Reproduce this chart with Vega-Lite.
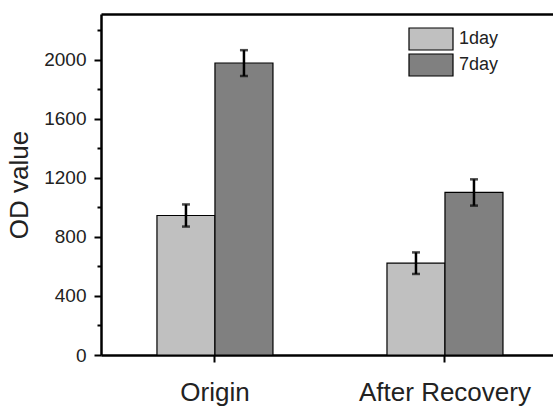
{
  "$schema": "https://vega.github.io/schema/vega-lite/v6.json",
  "width": 452,
  "height": 341,
  "autosize": {"type": "none"},
  "padding": {"left": 101, "top": 14, "right": 0, "bottom": 57},
  "background": "white",
  "config": {
    "view": {"stroke": null},
    "font": "Liberation Sans",
    "axis": {"grid": false, "domainColor": "black", "tickColor": "black", "labelColor": "#222", "titleColor": "#222", "labelFont": "Liberation Sans", "titleFont": "Liberation Sans", "titleFontWeight": "normal"}
  },
  "data": {
    "values": [
      {"group": "Origin", "day": "1day", "value": 945, "lo": 870, "hi": 1020},
      {"group": "Origin", "day": "7day", "value": 1978, "lo": 1890, "hi": 2065},
      {"group": "After Recovery", "day": "1day", "value": 622, "lo": 549, "hi": 695},
      {"group": "After Recovery", "day": "7day", "value": 1102, "lo": 1012, "hi": 1190}
    ]
  },
  "layer": [
    {
      "mark": {"type": "bar", "stroke": "black", "strokeWidth": 1.2},
      "encoding": {
        "x": {"field": "group", "type": "nominal", "sort": ["Origin", "After Recovery"],
          "scale": {"paddingInner": 0.4957, "paddingOuter": 0.2304, "align": 0.528},
          "axis": {"title": null, "orient": "bottom", "labelAngle": 0, "labelFontSize": 26, "labelPadding": 17, "tickSize": 7, "tickWidth": 2, "domainWidth": 2.5}},
        "xOffset": {"field": "day", "type": "nominal", "scale": {"paddingInner": 0, "paddingOuter": 0}},
        "y": {"field": "value", "type": "quantitative",
          "scale": {"domain": [0, 2310], "nice": false},
          "axis": {"title": "OD value", "format": "d", "values": [0, 400, 800, 1200, 1600, 2000], "labelFontSize": 19, "titleFontSize": 26, "titlePadding": 11, "tickSize": 7, "tickWidth": 2, "domainWidth": 2.5, "labelPadding": 8}},
        "color": {"field": "day", "type": "nominal",
          "scale": {"domain": ["1day", "7day"], "range": ["#c0c0c0", "#808080"]},
          "legend": {"title": null, "orient": "none", "legendX": 318, "legendY": 13, "symbolType": "M-2,-1H2V1H-2Z", "symbolSize": 484, "symbolStrokeColor": "black", "symbolStrokeWidth": 1.2, "symbolOpacity": 1, "labelFontSize": 18, "labelColor": "#222", "labelOffset": 16, "rowPadding": -11}}
      }
    },
    {
      "mark": {"type": "rule", "color": "black", "strokeWidth": 2.5},
      "encoding": {
        "x": {"field": "group", "type": "nominal", "sort": ["Origin", "After Recovery"],
          "axis": {"orient": "top", "title": null, "labels": false, "ticks": false, "domainWidth": 2.5}},
        "xOffset": {"field": "day", "type": "nominal"},
        "y": {"field": "lo", "type": "quantitative",
          "axis": {"orient": "left", "title": null, "values": [200, 600, 1000, 1400, 1800, 2200], "labels": false, "domain": false, "tickSize": 4, "tickWidth": 2}},
        "y2": {"field": "hi"}
      }
    },
    {
      "mark": {"type": "tick", "color": "black", "thickness": 2.5, "size": 8},
      "encoding": {
        "x": {"field": "group", "type": "nominal", "sort": ["Origin", "After Recovery"], "axis": null},
        "xOffset": {"field": "day", "type": "nominal"},
        "y": {"field": "lo", "type": "quantitative", "axis": null}
      }
    },
    {
      "mark": {"type": "tick", "color": "black", "thickness": 2.5, "size": 8},
      "encoding": {
        "x": {"field": "group", "type": "nominal", "sort": ["Origin", "After Recovery"], "axis": null},
        "xOffset": {"field": "day", "type": "nominal"},
        "y": {"field": "hi", "type": "quantitative", "axis": null}
      }
    }
  ],
  "resolve": {"axis": {"x": "independent", "y": "independent"}}
}
